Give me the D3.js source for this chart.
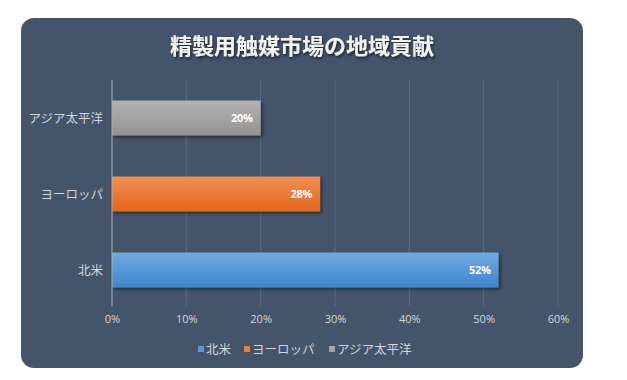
<!DOCTYPE html>
<html><head><meta charset="utf-8">
<script src="https://cdn.jsdelivr.net/npm/d3@7"></script>
<style>
html,body{margin:0;padding:0;background:#fff;}
svg{display:block;}
</style></head>
<body>
<svg id="c" width="627" height="380"></svg>
<script>
const title = "精製用触媒市場の地域貢献";
const categories = ["アジア太平洋", "ヨーロッパ", "北米"];
const values = [20, 28, 52];
const legendOrder = ["北米", "ヨーロッパ", "アジア太平洋"];
const ticks = [0, 10, 20, 30, 40, 50, 60];
const colorsTop = {"北米": "#72aae0", "ヨーロッパ": "#f48d52", "アジア太平洋": "#b3b3b3"};
const colorsBot = {"北米": "#3f85cc", "ヨーロッパ": "#e2681b", "アジア太平洋": "#939393"};
const legendColors = {"北米": "#5b9bd5", "ヨーロッパ": "#ed7d31", "アジア太平洋": "#a5a5a5"};

const svg = d3.select("#c");
const font = "'Noto Sans CJK JP', 'Noto Sans', sans-serif";
const defs = svg.append("defs");
categories.forEach((c, i) => {
  const g = defs.append("linearGradient").attr("id", "g" + i).attr("x1", 0).attr("y1", 0).attr("x2", 0).attr("y2", 1);
  g.append("stop").attr("offset", "0%").attr("stop-color", colorsTop[c]);
  g.append("stop").attr("offset", "100%").attr("stop-color", colorsBot[c]);
});
const sh = defs.append("filter").attr("id", "sh").attr("x", "-10%").attr("y", "-30%").attr("width", "130%").attr("height", "180%");
sh.append("feDropShadow").attr("dx", 2).attr("dy", 2).attr("stdDeviation", 1.5).attr("flood-color", "#000").attr("flood-opacity", 0.45);
const tsh = defs.append("filter").attr("id", "tsh").attr("x", "-10%").attr("y", "-30%").attr("width", "130%").attr("height", "180%");
tsh.append("feDropShadow").attr("dx", 1).attr("dy", 2).attr("stdDeviation", 1.5).attr("flood-color", "#000").attr("flood-opacity", 0.6);

svg.append("rect").attr("x", 21).attr("y", 18).attr("width", 562).attr("height", 350).attr("rx", 13).attr("fill", "#44546a");

svg.append("text").attr("x", 302).attr("y", 54).attr("text-anchor", "middle")
  .attr("font-family", font).attr("font-size", 22).attr("font-weight", "bold").attr("fill", "#f2f2f2")
  .attr("filter", "url(#tsh)").text(title);

const x = d3.scaleLinear().domain([0, 60]).range([112, 558]);
const y = d3.scaleBand().domain(categories).range([80, 308]).paddingInner(0.54).paddingOuter(0.27);

// gridlines
svg.append("g").selectAll("line").data(ticks.slice(1)).join("line")
  .attr("x1", d => x(d)).attr("x2", d => x(d)).attr("y1", 80).attr("y2", 306)
  .attr("stroke", "#5d6b80").attr("stroke-width", 1);

// bars
svg.append("g").selectAll("rect").data(categories).join("rect")
  .attr("x", x(0)).attr("y", d => y(d)).attr("width", (d, i) => x(values[i]) - x(0)).attr("height", y.bandwidth())
  .attr("fill", (d, i) => "url(#g" + i + ")").attr("filter", "url(#sh)");

// axis line
svg.append("line").attr("x1", x(0)).attr("x2", x(0)).attr("y1", 80).attr("y2", 306)
  .attr("stroke", "#a6adb8").attr("stroke-width", 1);

// value labels
svg.append("g").selectAll("text").data(categories).join("text")
  .attr("x", (d, i) => x(values[i]) - 8).attr("y", d => y(d) + y.bandwidth() / 2 + 4)
  .attr("text-anchor", "end").attr("font-family", "'Open Sans', sans-serif").attr("font-weight", "bold")
  .attr("font-size", 11).attr("fill", "#fff").attr("letter-spacing", -0.3)
  .text((d, i) => values[i] + "%");

// category labels
svg.append("g").selectAll("text").data(categories).join("text")
  .attr("x", 103).attr("y", d => y(d) + y.bandwidth() / 2 + 4.5)
  .attr("text-anchor", "end").attr("font-family", font).attr("font-size", 12.5).attr("fill", "#d4d7dc")
  .text(d => d);

// x axis tick labels
const xa = d3.axisBottom(x).tickValues(ticks).tickFormat(d => d + "%").tickSize(0).tickPadding(0);
const ag = svg.append("g").attr("transform", "translate(0,315)").call(xa);
ag.select(".domain").remove();
ag.selectAll("text").attr("font-family", "'Open Sans', sans-serif").attr("font-size", 11).attr("fill", "#d4d7dc").attr("dy", "0.71em");

// legend
const lg = svg.append("g");
const lx = [198, 244, 329];
legendOrder.forEach((c, i) => {
  lg.append("rect").attr("x", lx[i]).attr("y", 346).attr("width", 6).attr("height", 6).attr("fill", legendColors[c]);
  lg.append("text").attr("x", lx[i] + 8).attr("y", 353.5).attr("font-family", font).attr("font-size", 12.5)
    .attr("fill", "#d4d7dc").text(c);
});
</script>
</body></html>
